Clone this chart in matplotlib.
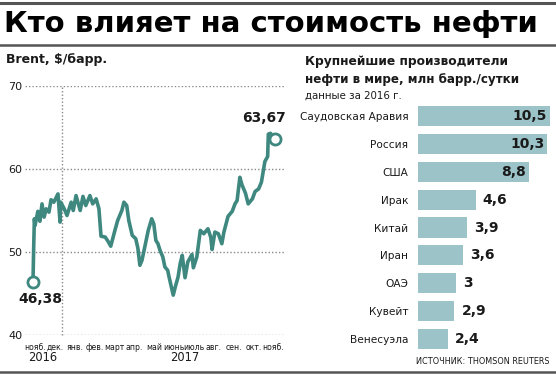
import matplotlib
matplotlib.use("Agg")
import matplotlib.pyplot as plt
import numpy as np
import pandas as pd

# ---------------- data ----------------
brent_dates = [
    "2016-11-29", "2016-11-30", "2016-12-01", "2016-12-02", "2016-12-06", "2016-12-09",
    "2016-12-12", "2016-12-15", "2016-12-18", "2016-12-22", "2016-12-25", "2016-12-29",
    "2017-01-04", "2017-01-07", "2017-01-08", "2017-01-13", "2017-01-17", "2017-01-23",
    "2017-01-26", "2017-01-30", "2017-02-05", "2017-02-09", "2017-02-13", "2017-02-19",
    "2017-02-23", "2017-02-28", "2017-03-04", "2017-03-07", "2017-03-13", "2017-03-17",
    "2017-03-21", "2017-03-27", "2017-03-31", "2017-04-06", "2017-04-09", "2017-04-13",
    "2017-04-16", "2017-04-21", "2017-04-26", "2017-04-29", "2017-05-02", "2017-05-05",
    "2017-05-09", "2017-05-14", "2017-05-19", "2017-05-22", "2017-05-25", "2017-05-28",
    "2017-05-31", "2017-06-04", "2017-06-07", "2017-06-11", "2017-06-13", "2017-06-19",
    "2017-06-22", "2017-06-26", "2017-06-29", "2017-07-02", "2017-07-06", "2017-07-10",
    "2017-07-16", "2017-07-18", "2017-07-23", "2017-07-28", "2017-08-02", "2017-08-08",
    "2017-08-12", "2017-08-14", "2017-08-18", "2017-08-23", "2017-08-28", "2017-08-31",
    "2017-09-06", "2017-09-12", "2017-09-16", "2017-09-19", "2017-09-23", "2017-09-26",
    "2017-10-01", "2017-10-05", "2017-10-11", "2017-10-15", "2017-10-20", "2017-10-24",
    "2017-10-29", "2017-11-02", "2017-11-03", "2017-11-06", "2017-11-13",
]
brent_values = [
    46.38, 50.5, 54.0, 53.2, 54.9, 53.7,
    55.8, 54.2, 55.2, 54.8, 56.3, 56.0,
    57.0, 53.6, 56.0, 55.2, 54.4, 56.0,
    55.0, 56.8, 55.0, 56.7, 55.6, 56.8,
    55.8, 56.4, 55.2, 51.9, 51.8, 51.3,
    50.7, 52.6, 53.8, 55.0, 56.0, 55.6,
    53.8, 52.0, 51.6, 50.5, 48.4, 49.0,
    50.6, 52.6, 54.0, 53.4, 51.4, 51.0,
    50.2, 49.4, 48.2, 47.8, 47.0, 44.8,
    45.8, 47.0, 48.6, 49.6, 46.9, 48.8,
    49.7, 48.1, 49.4, 52.6, 52.2, 52.8,
    51.8, 50.3, 52.4, 52.2, 51.0, 52.4,
    54.3, 54.9, 55.8, 56.2, 59.0, 58.1,
    57.1, 55.8, 56.4, 57.3, 57.6, 58.4,
    60.9, 61.5, 64.2, 64.3, 63.67,
]
month_labels = ["нояб.", "дек.", "янв.", "фев.", "март", "апр.", "май", "июнь",
                "июль", "авг.", "сен.", "окт.", "нояб."]
year_labels = ["2016", "2017"]
y_ticks = [40, 50, 60, 70]

countries = ["Саудовская Аравия", "Россия", "США", "Ирак", "Китай", "Иран",
             "ОАЭ", "Кувейт", "Венесуэла"]
production = [10.5, 10.3, 8.8, 4.6, 3.9, 3.6, 3.0, 2.9, 2.4]
production_labels = ["10,5", "10,3", "8,8", "4,6", "3,9", "3,6", "3", "2,9", "2,4"]

# ---------------- style ----------------
LINE = "#3e8880"
BAR = "#9cc3c8"
DARK = "#1a1a1a"
RULE = "#555555"
plt.rcParams["font.family"] = ["DejaVu Sans"]

W, H = 556, 380
fig = plt.figure(figsize=(W / 100, H / 100), dpi=100)

def fx(px):
    return px / W

def fy(py):
    return 1 - py / H

# rules
for y0, lw in [(3, 2.2), (45, 1.8), (372, 1.8)]:
    fig.add_artist(plt.Line2D([0, 1], [fy(y0), fy(y0)], color=RULE, lw=lw))

fig.text(fx(4), fy(24), "Кто влияет на стоимость нефти", fontsize=21,
         fontweight="heavy", color="black", va="center", ha="left")
fig.text(fx(6), fy(60), "Brent, $/барр.", fontsize=9, fontweight="bold",
         color=DARK, va="center", ha="left")
fig.text(fx(305), fy(62), "Крупнейшие производители", fontsize=8.8,
         fontweight="bold", color=DARK, va="center", ha="left")
fig.text(fx(305), fy(79), "нефти в мире, млн барр./сутки", fontsize=8.6,
         fontweight="bold", color=DARK, va="center", ha="left")
fig.text(fx(305), fy(96), "данные за 2016 г.", fontsize=7.4, color=DARK,
         va="center", ha="left")
fig.text(fx(549), fy(362), "ИСТОЧНИК: THOMSON REUTERS", fontsize=5.9,
         color=DARK, va="center", ha="right")

# ---------------- line chart ----------------
dates = pd.to_datetime(brent_dates)
start = dates[0]
ax = fig.add_axes([fx(25), fy(335), fx(285) - fx(25), fy(86) - fy(335)])
ax.plot(dates, brent_values, color=LINE, lw=2.6, solid_joinstyle="round",
        zorder=3)
ax.plot([dates[0], dates[-1]], [brent_values[0], brent_values[-1]], "o",
        ms=8, mfc="white", mec=LINE, mew=2, zorder=4)
ax.set_ylim(40, 70)
ax.set_xlim(start - pd.Timedelta(days=11.5), start + pd.Timedelta(days=363))
for v in y_ticks:
    ax.axhline(v, color="#8a8a8a", lw=1, ls=(0, (1, 1.5)), zorder=1)
ax.set_yticks(y_ticks)
ax.set_yticklabels([str(v) for v in y_ticks], fontsize=8, color=DARK)
ax.tick_params(axis="y", length=0, pad=2)
tick_dates = [start + pd.Timedelta(days=3 + 28.6 * k) for k in range(len(month_labels))]
ax.set_xticks(tick_dates)
ax.set_xticklabels(month_labels, fontsize=5.6, color=DARK)
ax.tick_params(axis="x", length=0, pad=6)
sep = start + pd.Timedelta(days=42)
ax.plot([sep, sep], [40, 70], color="#8a8a8a", lw=1, ls=(0, (1, 1.5)),
        zorder=1, clip_on=False)
for s in ax.spines.values():
    s.set_visible(False)
ax.set_facecolor("none")

ax.annotate("46,38", (dates[0], brent_values[0]), xytext=(5, -12),
            textcoords="offset points", ha="center", va="center",
            fontsize=10, fontweight="bold", color=DARK)
ax.annotate("63,67", (dates[-1], brent_values[-1]), xytext=(-8, 15),
            textcoords="offset points", ha="center", va="center",
            fontsize=10, fontweight="bold", color=DARK)
ax.text(start + pd.Timedelta(days=14), 37.3, year_labels[0], ha="center",
        va="center", fontsize=8.3, color=DARK)
ax.text(start + pd.Timedelta(days=218), 37.3, year_labels[1], ha="center",
        va="center", fontsize=8.3, color=DARK)

# ---------------- bar chart ----------------
bx = fig.add_axes([fx(418), fy(353), fx(550) - fx(418), fy(102) - fy(353)])
ypos = np.arange(len(countries))
bx.barh(ypos, production, height=0.72, color=BAR, edgecolor="none")
bx.set_xlim(0, 10.5)
bx.set_ylim(len(countries) - 0.5, -0.5)
bx.set_yticks(ypos)
bx.set_yticklabels(countries, fontsize=7.6, color=DARK)
bx.tick_params(axis="y", length=0, pad=7)
bx.set_xticks([])
for s in bx.spines.values():
    s.set_visible(False)
bx.set_facecolor("none")
for i, (v, lab) in enumerate(zip(production, production_labels)):
    if v > 8:
        bx.annotate(lab, (v, i), xytext=(-2, 0), textcoords="offset points",
                    ha="right", va="center", fontsize=10, fontweight="bold",
                    color=DARK)
    else:
        bx.annotate(lab, (v, i), xytext=(5, 0), textcoords="offset points",
                    ha="left", va="center", fontsize=10, fontweight="bold",
                    color=DARK)

fig.savefig("out.png", dpi=100)
